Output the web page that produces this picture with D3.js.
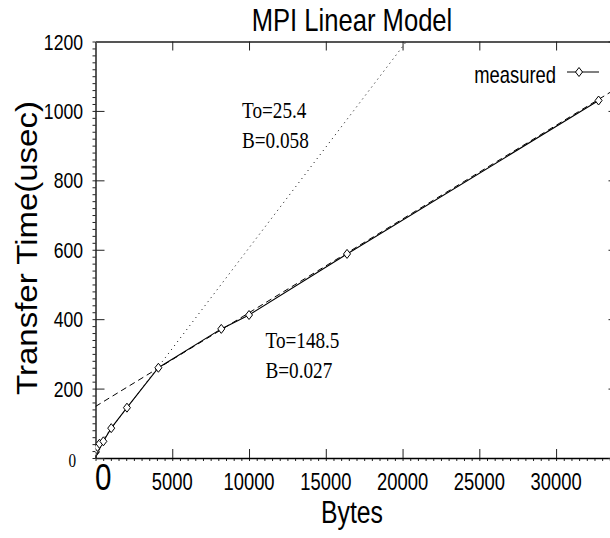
<!DOCTYPE html>
<html><head><meta charset="utf-8">
<script src="https://cdn.jsdelivr.net/npm/d3@7"></script>
<style>body{margin:0;background:#fff}svg{display:block}</style>
</head><body><svg id="c" width="610" height="538"></svg>
<script>
// ---- data ----
const bytes = [1, 16, 64, 128, 256, 512, 1024, 2048, 4096, 8192, 10000, 16384, 32768];
const usec  = [16, 19, 26, 32, 41, 48, 86, 145, 260, 372, 412, 588, 1030];
const xTicks = [0, 5000, 10000, 15000, 20000, 25000, 30000];
const yTicks = [0, 200, 400, 600, 800, 1000, 1200];
const modelTo = [25.4, 148.5];
const modelB  = [0.058, 0.027];
const modelLabelTo = ["To=25.4", "To=148.5"];
const modelLabelB  = ["B=0.058", "B=0.027"];
const legendLabel = "measured";
const title = "MPI Linear Model";
const xTitle = "Bytes";
const yTitle = "Transfer Time(usec)";

// ---- layout ----
const svg = d3.select("#c");
const x = d3.scaleLinear().domain([0, 34000]).range([95.5, 617.5]);
const y = d3.scaleLinear().domain([0, 1200]).range([458, 41.5]);
const SANS = "'Liberation Sans', Arial, Helvetica, sans-serif";
const SERIF = "'Liberation Serif', 'Times New Roman', serif";
const SQ = 0.8;

function sqText(px, py, str, size, anchor, family) {
  return svg.append("text")
    .attr("transform", `translate(${px},${py}) scale(${SQ},1)`)
    .attr("text-anchor", anchor || "start")
    .attr("font-family", family || SANS)
    .attr("font-size", size)
    .attr("fill", "#000")
    .text(str);
}

svg.append("defs").append("clipPath").attr("id", "clip")
  .append("rect").attr("x", x(0)).attr("y", y(1200))
  .attr("width", x(34000) - x(0)).attr("height", y(0) - y(1200));

// minor ticks (outward)
svg.append("g").attr("transform", `translate(0,${y(0)})`)
  .call(d3.axisBottom(x).tickValues(d3.range(0, 34001, 500)).tickSize(3).tickFormat(""))
  .call(g => g.select(".domain").remove());
svg.append("g").attr("transform", `translate(${x(0)},0)`)
  .call(d3.axisLeft(y).tickValues(d3.range(0, 1201, 20)).tickSize(3).tickFormat(""))
  .call(g => g.select(".domain").remove());

// major axes (inward ticks)
const gx = svg.append("g").attr("transform", `translate(0,${y(0)})`)
  .call(d3.axisBottom(x).tickValues(xTicks).tickSizeInner(-9).tickSizeOuter(0).tickFormat(""));
const gy = svg.append("g").attr("transform", `translate(${x(0)},0)`)
  .call(d3.axisLeft(y).tickValues(yTicks).tickSizeInner(-9).tickSizeOuter(0).tickFormat(""));
const gt = svg.append("g").attr("transform", `translate(0,${y(1200)})`)
  .call(d3.axisTop(x).tickValues(xTicks.slice(1)).tickSizeInner(-9).tickSizeOuter(0).tickFormat(""));
gt.select(".domain").attr("stroke", "#555").attr("stroke-width", 2);
const gr = svg.append("g").attr("transform", `translate(${x(34000)},0)`)
  .call(d3.axisRight(y).tickValues(yTicks).tickSizeInner(-9).tickSizeOuter(0).tickFormat(""));
gx.select(".domain").attr("stroke-width", 1.3);
gy.select(".domain").attr("stroke-width", 1.3);
svg.selectAll(".tick line").attr("stroke", "#222");

// tick labels
xTicks.forEach(v => {
  if (v === 0) sqText(x(v) - 0.5, 490, "0", 37, "start");
  else sqText(x(v), 490, String(v), 23, "middle");
});
yTicks.forEach(v => {
  if (v === 0) sqText(76, y(v) + 9, "0", 19, "end", SERIF);
  else sqText(83, y(v) + 8, String(v), 22, "end");
});

// titles
sqText(352, 31, title, 32, "middle");
sqText(352, 523, xTitle, 31, "middle");
svg.append("text")
  .attr("transform", `translate(37,248) scale(0.92,1) rotate(-90)`)
  .attr("text-anchor", "middle").attr("font-family", SANS).attr("font-size", 33)
  .attr("fill", "#000").text(yTitle);

// model lines
const plot = svg.append("g").attr("clip-path", "url(#clip)");
const dashes = ["1,4", "6,4"];
modelTo.forEach((to, i) => {
  const xs = [0, 34000];
  plot.append("path")
    .attr("d", d3.line()(xs.map(b => [x(b), y(to + modelB[i] * b)])))
    .attr("fill", "none").attr("stroke", "#000").attr("stroke-width", 1)
    .attr("stroke-dasharray", dashes[i]);
});

// measured
const pts = bytes.map((b, i) => [x(b), y(usec[i])]);
plot.append("path").attr("d", d3.line()(pts))
  .attr("fill", "none").attr("stroke", "#000").attr("stroke-width", 1.1);
const diamond = (cx, cy) => `M${cx},${cy - 4.5}L${cx + 3.5},${cy}L${cx},${cy + 4.5}L${cx - 3.5},${cy}Z`;
plot.selectAll("path.pt").data(pts).join("path").attr("class", "pt")
  .attr("d", d => diamond(d[0], d[1]))
  .attr("fill", "#fff").attr("stroke", "#000").attr("stroke-width", 1);

// model annotations
const annX = [242, 265.5];
const annY = [117.5, 347.5];
modelTo.forEach((to, i) => {
  sqText(annX[i], annY[i], modelLabelTo[i], 24, "start", SERIF);
  sqText(annX[i], annY[i] + 30, modelLabelB[i], 24, "start", SERIF);
});

// legend
sqText(556, 83, legendLabel, 23, "end");
svg.append("line").attr("x1", 567).attr("x2", 599).attr("y1", 72).attr("y2", 72)
  .attr("stroke", "#000").attr("stroke-width", 1);
svg.append("path").attr("d", diamond(579, 72))
  .attr("fill", "#fff").attr("stroke", "#000").attr("stroke-width", 1);
</script>
</body></html>
